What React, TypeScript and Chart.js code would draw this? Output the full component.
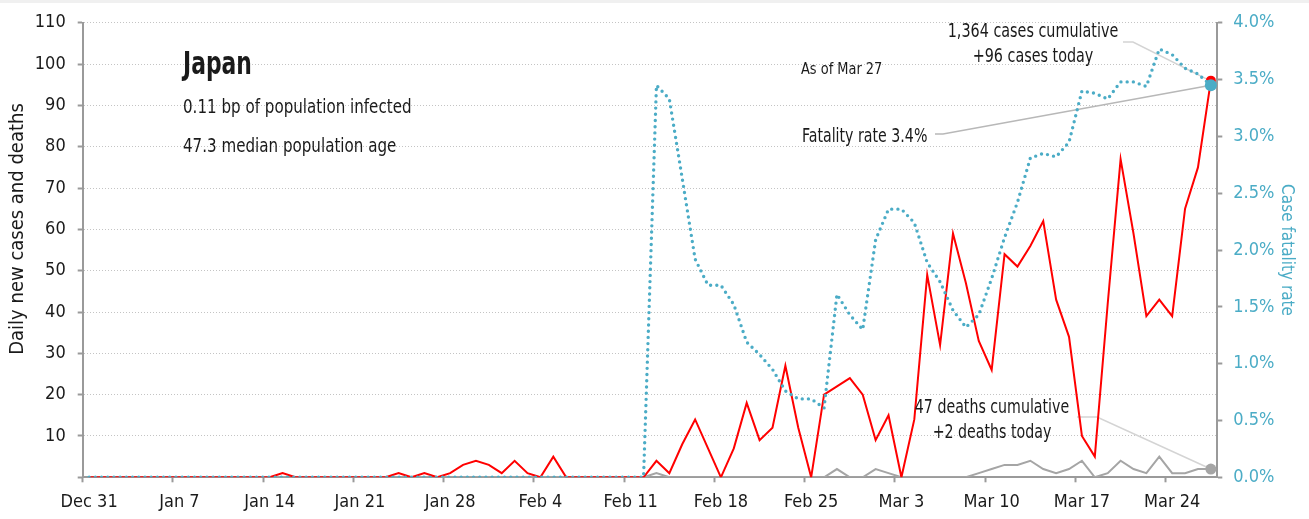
import React, { useEffect, useRef } from 'react';
import { Chart, registerables } from 'chart.js';

Chart.register(...registerables);

// Daily values from Dec 31 (index 0) to Mar 27 (index 87)
const newCases = [
  0, 0, 0, 0, 0, 0, 0, 0, 0, 0, 0, 0, 0, 0, 0,
  1, 0, 0, 0, 0, 0, 0, 0, 0,
  1, 0, 1, 0, 1, 3, 4, 3, 1, 4, 1, 0, 5,
  0, 0, 0, 0, 0, 0, 0,
  4, 1, 8, 14, 7, 0, 7, 18, 9, 12, 27, 12, 0, 20, 22, 24, 20,
  9, 15, 0, 14, 49, 32, 59, 47, 33, 26, 54, 51, 56, 62, 43, 34, 10, 5,
  42, 77, 59, 39, 43, 39, 65, 75, 96,
];

const deaths = [
  0, 0, 0, 0, 0, 0, 0, 0, 0, 0, 0, 0, 0, 0, 0,
  0, 0, 0, 0, 0, 0, 0, 0, 0,
  0, 0, 0, 0, 0, 0, 0, 0, 0, 0, 0, 0, 0,
  0, 0, 0, 0, 0, 0, 0,
  1, 0, 0, 0, 0, 0, 0, 0, 0, 0, 0, 0, 0, 0, 2, 0, 0,
  2, 1, 0, 0, 0, 0, 0, 0, 1, 2, 3, 3, 4, 2, 1, 2, 4, 0,
  1, 4, 2, 1, 5, 1, 1, 2, 2,
];

// Case fatality rate, percent
const fatalityRate = [
  0, 0, 0, 0, 0, 0, 0, 0, 0, 0, 0, 0, 0, 0, 0,
  0, 0, 0, 0, 0, 0, 0, 0, 0,
  0, 0, 0, 0, 0, 0, 0, 0, 0, 0, 0, 0, 0,
  0, 0, 0, 0, 0, 0, 0,
  3.45, 3.33, 2.63, 1.92, 1.69, 1.69, 1.52, 1.19, 1.08, 0.95, 0.76, 0.69, 0.69, 0.61, 1.61, 1.43, 1.30,
  2.09, 2.36, 2.36, 2.24, 1.89, 1.72, 1.47, 1.32, 1.43, 1.75, 2.11, 2.42, 2.81, 2.85, 2.82, 2.95, 3.40, 3.38,
  3.33, 3.48, 3.48, 3.44, 3.77, 3.72, 3.60, 3.55, 3.45,
];

const xTickDays = [0, 7, 14, 21, 28, 35, 42, 49, 56, 63, 70, 77, 84];
const xTickLabels = [
  'Dec 31', 'Jan 7', 'Jan 14', 'Jan 21', 'Jan 28', 'Feb 4', 'Feb 11',
  'Feb 18', 'Feb 25', 'Mar 3', 'Mar 10', 'Mar 17', 'Mar 24',
];

const countryName = 'Japan';
const infoLines = ['0.11 bp of population infected', '47.3 median population age'];
const asOfText = 'As of Mar 27';
const fatalityText = 'Fatality rate 3.4%';
const casesText = ['1,364 cases cumulative', '+96 cases today'];
const deathsText = ['47 deaths cumulative', '+2 deaths today'];
const leftTitle = 'Daily new cases and deaths';
const rightTitle = 'Case fatality rate';

const FONT = '"Liberation Sans Narrow", "DejaVu Sans Condensed", "Roboto", sans-serif';
const RED = '#ff0000';
const TEAL = '#4bacc6';
const GRAY = '#a5a5a5';
const AXIS = '#9a9a9a';
const TEXT = '#1a1a1a';

export default function App() {
  const ref = useRef<HTMLCanvasElement | null>(null);

  useEffect(() => {
    document.body.style.margin = '0';
    const canvas = ref.current;
    if (!canvas) return;
    const last = newCases.length - 1;
    const toPts = (arr: number[]) => arr.map((v, i) => ({ x: i + 0.5, y: v }));
    const endRadius = (r: number) => (c: any) => (c.dataIndex === last ? r : 0);

    const drawText = (
      ctx: CanvasRenderingContext2D,
      text: string,
      x: number,
      y: number,
      font: string,
      sx: number,
      align: CanvasTextAlign,
      rot = 0,
    ) => {
      ctx.save();
      ctx.font = font;
      ctx.textAlign = align;
      ctx.translate(x, y);
      if (rot) ctx.rotate(rot);
      ctx.scale(sx, 1);
      ctx.fillText(text, 0, 0);
      ctx.restore();
    };

    const annot = {
      id: 'annot',
      beforeDatasetsDraw(chart: any) {
        const { ctx, scales } = chart;
        const ex = scales.x.getPixelForValue(last + 0.5);
        const redY = scales.y.getPixelForValue(newCases[last]);
        const tealY = scales.y1.getPixelForValue(fatalityRate[last]);
        const grayY = scales.y.getPixelForValue(deaths[last]);
        const leader = (pts: number[][], color: string) => {
          ctx.save();
          ctx.strokeStyle = color;
          ctx.lineWidth = 1.5;
          ctx.beginPath();
          ctx.moveTo(pts[0][0], pts[0][1]);
          for (let i = 1; i < pts.length; i++) ctx.lineTo(pts[i][0], pts[i][1]);
          ctx.stroke();
          ctx.restore();
        };
        leader([[935, 134], [943, 134], [ex, tealY]], '#b8b8b8');
        leader([[1123, 42], [1133, 42], [ex - 3, redY - 1]], '#d4d4d4');
        leader([[1077, 417], [1097, 417], [ex, grayY]], '#d4d4d4');
      },
      afterDatasetsDraw(chart: any) {
        const { ctx } = chart;
        ctx.save();
        ctx.fillStyle = TEXT;
        ctx.textBaseline = 'alphabetic';
        drawText(ctx, countryName, 183, 74, `bold 32px ${FONT}`, 0.76, 'left');
        drawText(ctx, infoLines[0], 183, 113, `20px ${FONT}`, 0.84, 'left');
        drawText(ctx, infoLines[1], 183, 152, `20px ${FONT}`, 0.84, 'left');
        drawText(ctx, asOfText, 801, 74, `16px ${FONT}`, 0.9, 'left');
        drawText(ctx, fatalityText, 802, 142, `19px ${FONT}`, 0.83, 'left');
        drawText(ctx, casesText[0], 1033, 37, `19px ${FONT}`, 0.84, 'center');
        drawText(ctx, casesText[1], 1033, 62, `19px ${FONT}`, 0.84, 'center');
        drawText(ctx, deathsText[0], 992, 413, `19px ${FONT}`, 0.83, 'center');
        drawText(ctx, deathsText[1], 992, 438, `19px ${FONT}`, 0.83, 'center');
        ctx.textBaseline = 'middle';
        drawText(ctx, leftTitle, 18, 229, `20px ${FONT}`, 1, 'center', -Math.PI / 2);
        ctx.restore();
      },
    };

    const chart = new Chart(canvas, {
      type: 'line',
      data: {
        datasets: [
          {
            label: 'Case fatality rate',
            data: toPts(fatalityRate),
            yAxisID: 'y1',
            borderColor: TEAL,
            backgroundColor: TEAL,
            borderWidth: 3.4,
            borderDash: [0, 6.2],
            borderCapStyle: 'round',
            tension: 0,
            pointRadius: endRadius(6),
            pointBorderWidth: 0,
            pointBackgroundColor: TEAL,
            order: 0,
          },
          {
            label: 'Daily new cases',
            data: toPts(newCases),
            yAxisID: 'y',
            borderColor: RED,
            backgroundColor: RED,
            borderWidth: 2,
            tension: 0,
            pointRadius: endRadius(5),
            pointBorderWidth: 0,
            pointBackgroundColor: RED,
            order: 1,
          },
          {
            label: 'Daily deaths',
            data: toPts(deaths),
            yAxisID: 'y',
            borderColor: GRAY,
            backgroundColor: GRAY,
            borderWidth: 2,
            tension: 0,
            pointRadius: endRadius(5.5),
            pointBorderWidth: 0,
            pointBackgroundColor: GRAY,
            order: 2,
          },
        ],
      },
      options: {
        responsive: false,
        animation: false,
        layout: { padding: { top: 16, left: 0, right: 0, bottom: 0 } },
        plugins: {
          legend: { display: false },
          tooltip: { enabled: false },
          title: { display: false },
        },
        scales: {
          x: {
            type: 'linear',
            position: 'bottom',
            min: 0,
            max: 88,
            afterBuildTicks: (axis: any) => {
              axis.ticks = xTickDays.map((v) => ({ value: v }));
            },
            afterFit: (scale: any) => {
              scale.height = 41.7;
            },
            ticks: {
              autoSkip: false,
              maxRotation: 0,
              minRotation: 0,
              padding: 9,
              labelOffset: 6.45,
              color: TEXT,
              font: { family: FONT, size: 18 },
              callback: (v: any) => {
                const k = xTickDays.indexOf(Number(v));
                return k >= 0 ? xTickLabels[k] : '';
              },
            },
            grid: {
              display: true,
              drawOnChartArea: false,
              drawTicks: true,
              tickLength: 5,
              tickColor: AXIS,
              tickWidth: 2,
            },
            border: { display: true, color: AXIS, width: 2 },
          },
          y: {
            type: 'linear',
            position: 'left',
            min: 0,
            max: 110,
            afterFit: (scale: any) => {
              scale.width = 82.7;
            },
            ticks: {
              stepSize: 10,
              padding: 12,
              color: TEXT,
              font: { family: FONT, size: 18 },
              callback: (v: any) => (Number(v) === 0 ? '' : String(v)),
            },
            grid: {
              display: true,
              drawOnChartArea: true,
              color: '#c4c4c4',
              lineWidth: 1,
              drawTicks: true,
              tickLength: 5,
              tickColor: AXIS,
              tickWidth: 2,
            },
            border: { display: true, color: AXIS, width: 2, dash: [1, 2] },
            title: { display: false },
          },
          y1: {
            type: 'linear',
            position: 'right',
            min: 0,
            max: 4,
            afterFit: (scale: any) => {
              scale.width = 91.7;
            },
            ticks: {
              stepSize: 0.5,
              padding: 11,
              color: TEAL,
              font: { family: FONT, size: 18 },
              callback: (v: any) => Number(v).toFixed(1) + '%',
            },
            grid: {
              display: true,
              drawOnChartArea: false,
              drawTicks: true,
              tickLength: 5,
              tickColor: AXIS,
              tickWidth: 2,
            },
            border: { display: true, color: AXIS, width: 2 },
            title: {
              display: true,
              text: rightTitle,
              color: TEAL,
              font: { family: FONT, size: 17 },
              padding: { top: 12, bottom: 0 },
            },
          },
        },
      },
      plugins: [annot],
    } as any);

    return () => chart.destroy();
  }, []);

  return (
    <div style={{ position: 'relative', width: 1309, height: 519, background: '#ffffff' }}>
      <canvas ref={ref} width={1309} height={519} style={{ display: 'block', width: 1309, height: 519 }} />
      <div style={{ position: 'absolute', left: 0, top: 0, width: 1309, height: 3, background: '#f0f0f0' }} />
    </div>
  );
}
